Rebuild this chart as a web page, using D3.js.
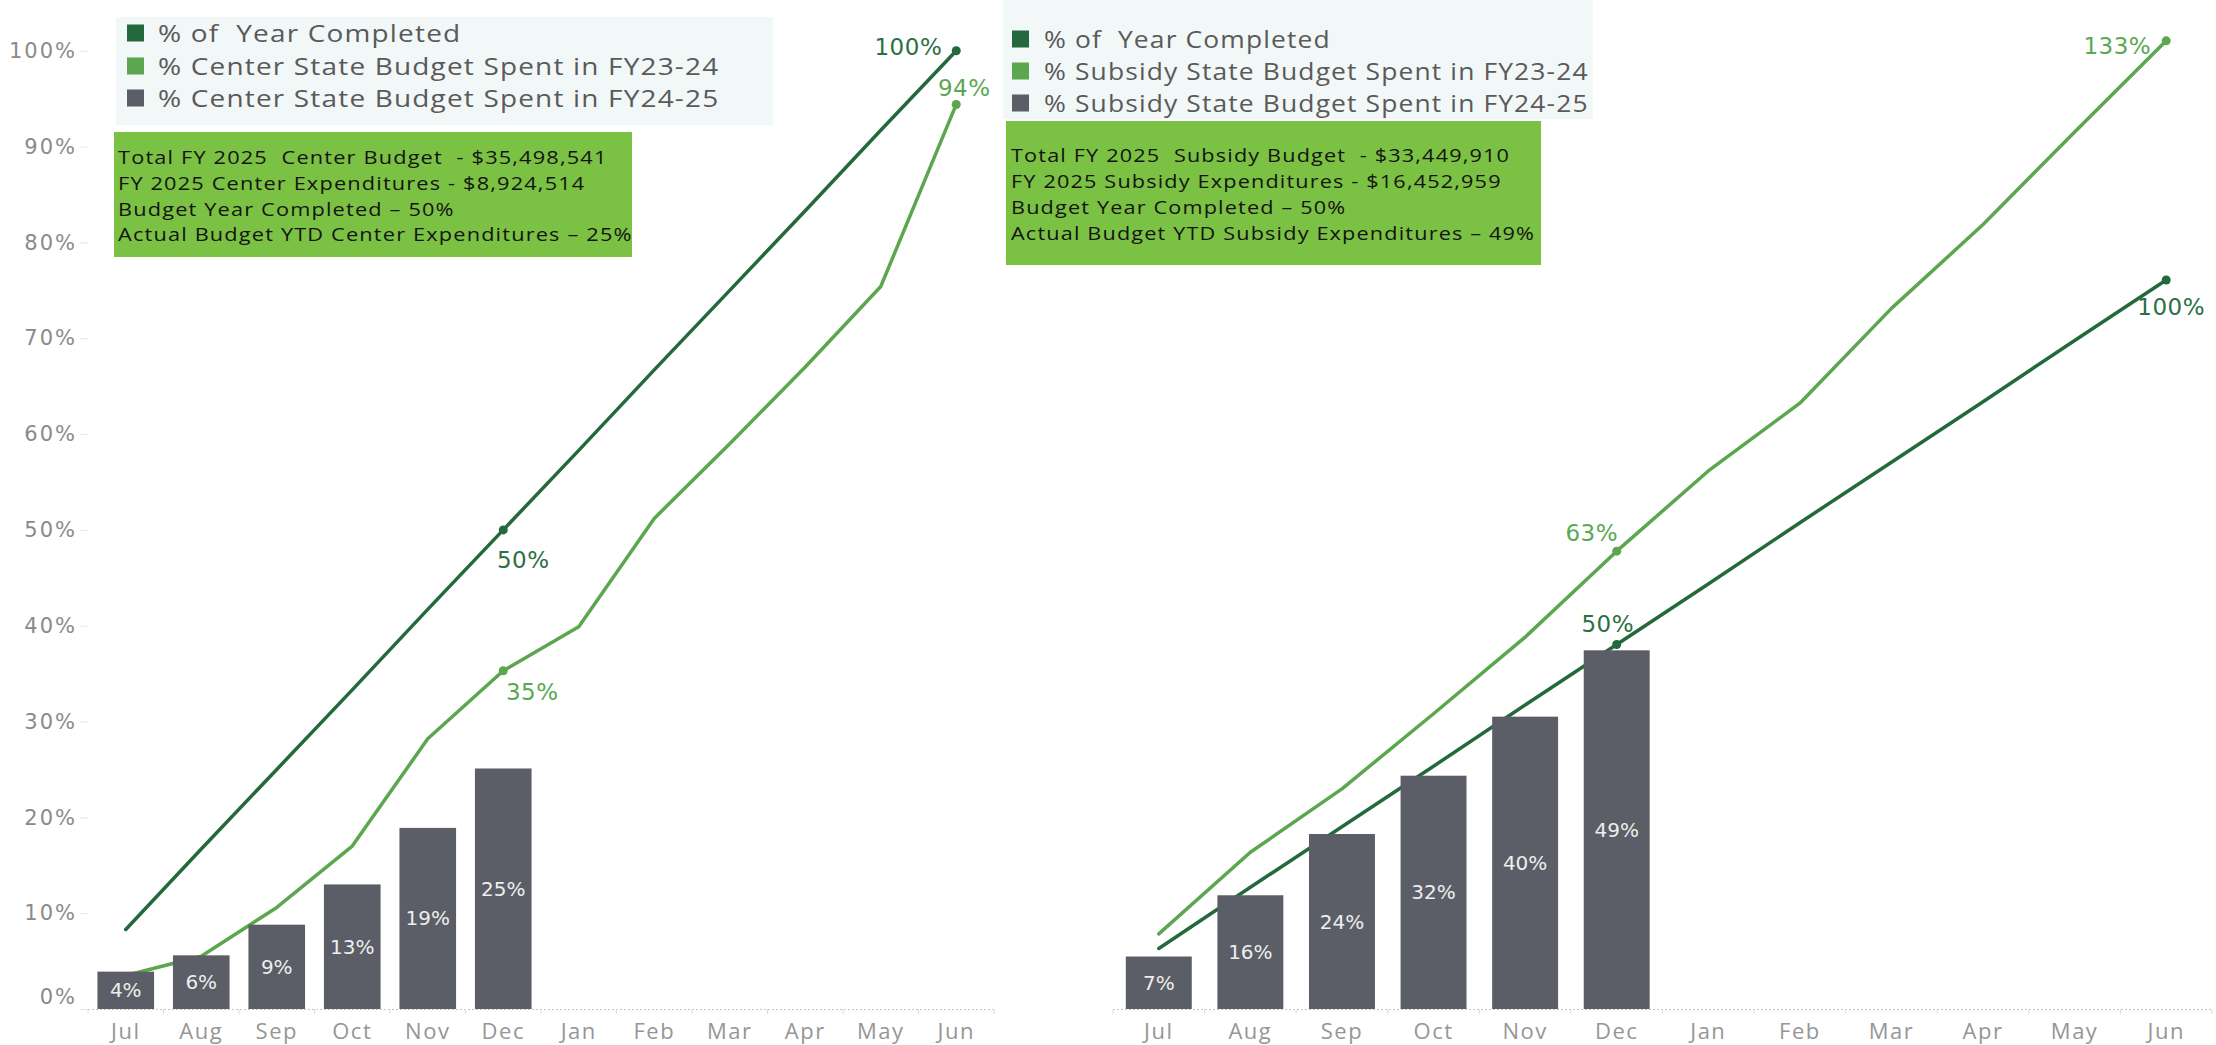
<!DOCTYPE html>
<html>
<head>
<meta charset="utf-8">
<script src="https://cdn.jsdelivr.net/npm/d3@7"></script>
<style>
  html, body { margin: 0; padding: 0; background: #fff; }
  svg { display: block; }
  text { white-space: pre; }
</style>
</head>
<body>
<div id="chart"></div>
<script>
// ---- data (percent of budget) ----
const MONTHS = ['Jul', 'Aug', 'Sep', 'Oct', 'Nov', 'Dec', 'Jan', 'Feb', 'Mar', 'Apr', 'May', 'Jun'];
const Y_TICKS = [0, 10, 20, 30, 40, 50, 60, 70, 80, 90, 100];

const yearCompleted = [8.3, 16.7, 25.0, 33.3, 41.7, 50.0, 58.3, 66.7, 75.0, 83.3, 91.7, 100.0];

const centerFY2324 = [3.5, 5.5, 10.6, 17.0, 28.2, 35.3, 39.9, 51.2, 59.0, 67.0, 75.4, 94.4];
const centerFY2425 = [3.9, 5.6, 8.8, 13.0, 18.9, 25.1];

const subsidyFY2324 = [10.3, 21.5, 30.2, 40.5, 51.0, 62.8, 73.8, 83.1, 96.1, 107.6, 120.3, 132.8];
const subsidyFY2425 = [7.2, 15.6, 24.0, 32.0, 40.1, 49.2];

const centerLegend = ['% of  Year Completed', '% Center State Budget Spent in FY23-24', '% Center State Budget Spent in FY24-25'];
const subsidyLegend = ['% of  Year Completed', '% Subsidy State Budget Spent in FY23-24', '% Subsidy State Budget Spent in FY24-25'];

const centerNotes = [
  'Total FY 2025  Center Budget  - $35,498,541',
  'FY 2025 Center Expenditures - $8,924,514',
  'Budget Year Completed \u2013 50%',
  'Actual Budget YTD Center Expenditures \u2013 25%'
];
const subsidyNotes = [
  'Total FY 2025  Subsidy Budget  - $33,449,910',
  'FY 2025 Subsidy Expenditures - $16,452,959',
  'Budget Year Completed \u2013 50%',
  'Actual Budget YTD Subsidy Expenditures \u2013 49%'
];

// ---- styles ----
const DARK      = '#24693d';
const LIGHT     = '#5ba64f';
const BAR       = '#5b5e66';
const BOX       = '#7bc143';
const LEGEND_BG = '#f2f7f7';
const AXIS_TXT  = '#8a8a8a';
const FONT_NUM  = "'DejaVu Sans', Verdana, sans-serif";
const FONT_TXT  = "'Open Sans', 'Noto Sans', sans-serif";

const W = 2216, H = 1045;
const BASE_Y = 1009;
const pct = v => `${d3.format('.0f')(v)}%`;

const svg = d3.select('#chart').append('svg')
  .attr('width', W).attr('height', H);

function drawPanel(p) {
  const g = svg.append('g');

  const x = d3.scaleBand()
    .domain(MONTHS)
    .range(p.xRange)
    .paddingInner(p.pad)
    .paddingOuter(p.pad / 2);
  const cx = m => x(m) + x.bandwidth() / 2;

  const y = d3.scaleLinear().domain([0, p.yMax]).range([BASE_Y, 0]);

  // y axis (left panel only)
  if (p.showY) {
    const ya = g.append('g')
      .attr('transform', `translate(${p.xRange[0]},0)`)
      .call(d3.axisLeft(y).tickValues(Y_TICKS).tickFormat(d => `${d}%`).tickSize(8).tickPadding(3));
    ya.select('.domain').remove();
    ya.selectAll('line').attr('stroke', '#e6e6e6');
    ya.selectAll('text')
      .attr('fill', AXIS_TXT)
      .style('font-family', FONT_NUM)
      .style('font-size', '21px')
      .style('letter-spacing', '2px');
    ya.selectAll('.tick').filter(d => d === 0).select('text').attr('y', -12);
  }

  // baseline: dotted rule with small ticks at band edges
  g.append('line')
    .attr('x1', p.xRange[0]).attr('x2', p.xRange[1])
    .attr('y1', y(0) + 0.5).attr('y2', y(0) + 0.5)
    .attr('stroke', '#c4c4c4').attr('stroke-width', 1.2)
    .attr('stroke-dasharray', '2,2');
  g.append('g').selectAll('line')
    .data(d3.range(MONTHS.length + 1))
    .join('line')
    .attr('x1', i => p.xRange[0] + i * x.step())
    .attr('x2', i => p.xRange[0] + i * x.step())
    .attr('y1', y(0)).attr('y2', y(0) + 5)
    .attr('stroke', '#dcdcdc');

  // month labels
  const xa = g.append('g')
    .attr('transform', `translate(0,${y(0)})`)
    .call(d3.axisBottom(x).tickSize(0).tickPadding(14));
  xa.select('.domain').remove();
  xa.selectAll('text')
    .attr('fill', '#969696')
    .style('font-family', FONT_TXT)
    .style('font-size', '22px')
    .style('letter-spacing', '1.5px');

  // lines
  const line = d3.line().x((d, i) => cx(MONTHS[i])).y(d => y(d));
  p.lines.forEach(s => {
    g.append('path')
      .datum(s.values)
      .attr('fill', 'none')
      .attr('stroke', s.color)
      .attr('stroke-width', 3.5)
      .attr('stroke-linejoin', 'round')
      .attr('stroke-linecap', 'round')
      .attr('d', line);
  });

  // bars (drawn over the lines, as in the original)
  const barData = p.bars.map((v, i) => ({ m: MONTHS[i], v }));
  g.append('g').selectAll('rect')
    .data(barData)
    .join('rect')
    .attr('x', d => x(d.m))
    .attr('width', x.bandwidth())
    .attr('y', d => y(d.v))
    .attr('height', d => y(0) - y(d.v))
    .attr('fill', BAR);
  g.append('g').selectAll('text')
    .data(barData)
    .join('text')
    .attr('x', d => cx(d.m))
    .attr('y', d => (y(d.v) + y(0)) / 2)
    .attr('text-anchor', 'middle')
    .attr('dominant-baseline', 'central')
    .attr('fill', '#eeeeee')
    .style('font-family', FONT_NUM)
    .style('font-size', '20px')
    .text(d => pct(d.v));

  // point markers + data labels
  p.lines.forEach(s => {
    s.marks.forEach(mk => {
      const px = cx(MONTHS[mk.i]), py = y(s.values[mk.i]);
      g.append('circle')
        .attr('cx', px).attr('cy', py).attr('r', 4.5)
        .attr('fill', s.color);
      g.append('text')
        .attr('x', px + mk.dx).attr('y', py + mk.dy)
        .attr('text-anchor', mk.anchor)
        .attr('fill', s.labelColor)
        .style('font-family', FONT_NUM)
        .style('font-size', '23px')
        .style('letter-spacing', '0.5px')
        .text(pct(s.values[mk.i]));
    });
  });

  // legend (the source font is wider than Open Sans, hence the x stretch)
  const lg = p.legend;
  g.append('rect')
    .attr('x', lg.x).attr('y', lg.y).attr('width', lg.w).attr('height', lg.h)
    .attr('fill', LEGEND_BG);
  const lColors = [DARK, LIGHT, BAR];
  p.legendLabels.forEach((t, i) => {
    const ry = lg.rows[i];
    g.append('rect')
      .attr('x', lg.sx).attr('y', ry - 8.5).attr('width', 17).attr('height', 17)
      .attr('fill', lColors[i]);
    g.append('text')
      .attr('transform', `translate(${lg.tx},${ry + 8.5}) scale(${lg.sc},1)`)
      .attr('fill', '#5a5a5a')
      .style('font-family', FONT_TXT)
      .style('font-size', '23.5px')
      .style('letter-spacing', '1px')
      .text(t);
  });

  // green annotation box
  const bx = p.box;
  g.append('rect')
    .attr('x', bx.x).attr('y', bx.y).attr('width', bx.w).attr('height', bx.h)
    .attr('fill', BOX);
  p.notes.forEach((t, i) => {
    g.append('text')
      .attr('transform', `translate(${bx.tx},${bx.rows[i] + 6.5}) scale(${bx.sc},1)`)
      .attr('fill', '#141414')
      .style('font-family', FONT_TXT)
      .style('font-size', '18.5px')
      .style('letter-spacing', '1px')
      .text(t);
  });
}

drawPanel({
  xRange: [88, 994],
  pad: 0.25,
  yMax: 105.3,
  showY: true,
  bars: centerFY2425,
  lines: [
    { values: yearCompleted, color: DARK, labelColor: '#2b6f43',
      marks: [{ i: 5, dx: 20, dy: 38, anchor: 'middle' }, { i: 11, dx: -14, dy: 4, anchor: 'end' }] },
    { values: centerFY2324, color: LIGHT, labelColor: '#5aa851',
      marks: [{ i: 5, dx: 29, dy: 29, anchor: 'middle' }, { i: 11, dx: 8, dy: -8, anchor: 'middle' }] }
  ],
  legendLabels: centerLegend,
  legend: { x: 116, y: 17, w: 657, h: 108, sx: 127, tx: 158, rows: [33, 66, 98], sc: 1.19 },
  notes: centerNotes,
  box: { x: 114, y: 132, w: 518, h: 125, tx: 118, rows: [157, 183, 209, 234], sc: 1.175 }
});

drawPanel({
  xRange: [1113, 2212],
  pad: 0.28,
  yMax: 138.4,
  showY: false,
  bars: subsidyFY2425,
  lines: [
    { values: subsidyFY2324, color: LIGHT, labelColor: '#5aa851',
      marks: [{ i: 5, dx: -25, dy: -10, anchor: 'middle' }, { i: 11, dx: -15, dy: 13, anchor: 'end' }] },
    { values: yearCompleted, color: DARK, labelColor: '#2b6f43',
      marks: [{ i: 5, dx: -9, dy: -12, anchor: 'middle' }, { i: 11, dx: 5, dy: 35, anchor: 'middle' }] }
  ],
  legendLabels: subsidyLegend,
  legend: { x: 1003, y: 0, w: 590, h: 119, sx: 1012, tx: 1044, rows: [39, 71, 103], sc: 1.125 },
  notes: subsidyNotes,
  box: { x: 1006, y: 121, w: 535, h: 144, tx: 1011, rows: [155, 181, 207, 233], sc: 1.17 }
});
</script>
</body>
</html>
